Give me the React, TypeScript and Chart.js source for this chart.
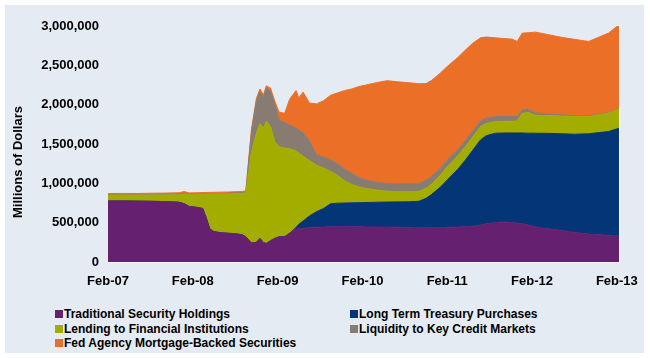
import React, { useEffect, useRef } from "react";
import { Chart, registerables } from "chart.js";

Chart.register(...registerables);

// months since Feb-2007
const months = [
  0, 2, 4, 6, 8, 10, 10.8, 11.5, 12.5, 13.4, 13.9, 14.4, 15, 16, 17, 18, 19, 19.5,
  20.3, 21, 21.5, 22, 22.4, 23, 23.6, 24.2, 25, 25.7, 26.2, 26.6, 27, 27.6, 28.5,
  29.5, 30.5, 31.5, 32.5, 33.5, 34.5, 35.5, 36.5, 38, 39.5, 41, 42.5, 44, 45, 45.8,
  47, 48, 49.5, 50.6, 51.6, 52.7, 53.5, 54.8, 56, 57.2, 57.9, 58.6, 59.5, 60.5, 62,
  64.3, 66, 68, 69.5, 70.8, 72.3,
];

const traditional = [
  775000, 776000, 774000, 772000, 768000, 760000, 740000, 705000, 695000, 680000, 560000, 420000,
  385000, 372000, 365000, 360000, 345000, 320000, 240000, 250000, 300000, 245000, 235000, 270000,
  300000, 320000, 322000, 365000, 400000, 415000, 425000, 430000, 440000, 442000, 445000, 448000,
  449000, 449000, 448000, 447000, 446000, 445000, 444000, 442000, 440000, 438000, 437000, 437000,
  438000, 440000, 445000, 449000, 455000, 470000, 485000, 500000, 510000, 500000, 495000, 485000,
  470000, 445000, 425000, 400000, 375000, 355000, 345000, 340000, 335000,
];

const longTerm = [
  0, 0, 0, 0, 0, 0, 0, 0, 0, 0, 0, 0,
  0, 0, 0, 0, 0, 0, 0, 0, 0, 0, 0, 0,
  0, 0, 0, 0, 5000, 25000, 55000, 90000, 145000, 198000, 235000, 292000,
  299000, 301000, 304000, 307000, 310000, 315000, 318000, 322000, 326000, 334000, 373000, 423000,
  512000, 603000, 735000, 851000, 965000, 1082000, 1120000, 1137000, 1130000, 1140000, 1145000, 1155000,
  1168000, 1192000, 1211000, 1230000, 1249000, 1275000, 1300000, 1318000, 1366000,
];

const lending = [
  75000, 75000, 76000, 80000, 85000, 95000, 120000, 153000, 165000, 182000, 303000, 444000,
  480000, 494000, 503000, 510000, 527000, 560000, 1160000, 1390000, 1460000, 1455000, 1555000, 1450000,
  1230000, 1145000, 1128000, 1075000, 1020000, 970000, 905000, 825000, 705000, 590000, 515000, 410000,
  352000, 280000, 233000, 201000, 179000, 155000, 138000, 130000, 128000, 126000, 127000, 130000,
  150000, 169000, 170000, 170000, 170000, 169000, 155000, 148000, 148000, 150000, 152000, 252000,
  262000, 228000, 226000, 225000, 225000, 220000, 227000, 234000, 246000,
];

const liquidity = [
  2000, 2000, 2000, 2000, 2000, 2000, 2000, 2000, 2000, 2000, 2000, 2000,
  2000, 3000, 4000, 8000, 10000, 8000, 250000, 410000, 410000, 390000, 420000, 450000,
  480000, 335000, 325000, 300000, 295000, 290000, 295000, 295000, 250000, 135000, 140000, 148000,
  150000, 150000, 140000, 120000, 106000, 100000, 98000, 98000, 98000, 98000, 100000, 100000,
  90000, 86000, 80000, 78000, 75000, 70000, 68000, 65000, 62000, 60000, 58000, 42000,
  40000, 30000, 22000, 15000, 10000, 8000, 7000, 6000, 5000,
];

const mbs = [
  18000, 19000, 19000, 20000, 21000, 23000, 33000, 18000, 18000, 18000, 19000, 19000,
  19000, 19000, 18000, 16000, 15000, 17000, 40000, 30000, 30000, 35000, 30000, 40000,
  35000, 105000, 115000, 330000, 410000, 480000, 405000, 520000, 480000, 645000, 715000, 822000,
  900000, 1000000, 1075000, 1155000, 1209000, 1265000, 1307000, 1298000, 1288000, 1269000, 1231000, 1220000,
  1210000, 1187000, 1170000, 1149000, 1115000, 1059000, 1032000, 1000000, 990000, 983000, 953000, 975000,
  975000, 1027000, 1011000, 984000, 971000, 945000, 981000, 1011000, 1063000,
];

const xTickMonths = [0, 12, 24, 36, 48, 60, 72];
const xTickLabels = ["Feb-07", "Feb-08", "Feb-09", "Feb-10", "Feb-11", "Feb-12", "Feb-13"];
const yTicks = [0, 500000, 1000000, 1500000, 2000000, 2500000, 3000000];

const seriesNames = [
  "Traditional Security Holdings",
  "Long Term Treasury Purchases",
  "Lending to Financial Institutions",
  "Liquidity to Key Credit Markets",
  "Fed Agency Mortgage-Backed Securities",
];
const seriesColors = ["#65206f", "#033577", "#a3ad00", "#877b72", "#eb6f26"];
const seriesData = [traditional, longTerm, lending, liquidity, mbs];

const FONT = "'Liberation Sans', Arial, sans-serif";

export default function App() {
  const ref = useRef<HTMLCanvasElement | null>(null);

  useEffect(() => {
    if (!ref.current) return;
    const edgePlugin = {
      id: "edges",
      afterDatasetsDraw(chart: any) {
        const { ctx, chartArea } = chart;
        ctx.save();
        ctx.strokeStyle = "#ffffff";
        ctx.lineWidth = 1;
        ctx.beginPath();
        ctx.moveTo(Math.round(chartArea.right) + 0.5, chart.scales.y.getPixelForValue(3015000));
        ctx.lineTo(Math.round(chartArea.right) + 0.5, chartArea.bottom + 1);
        ctx.moveTo(chartArea.left, Math.round(chartArea.bottom) + 0.5);
        ctx.lineTo(chartArea.right + 1, Math.round(chartArea.bottom) + 0.5);
        ctx.stroke();
        ctx.restore();
      },
    };
    const chart = new Chart(ref.current, {
      type: "line",
      data: {
        datasets: seriesData.map((arr, i) => ({
          label: seriesNames[i],
          data: arr.map((v, j) => ({ x: months[j], y: v })),
          backgroundColor: seriesColors[i],
          borderColor: seriesColors[i],
          borderWidth: 1,
          pointRadius: 0,
          tension: 0,
          fill: i === 0 ? "origin" : "-1",
        })),
      },
      options: {
        animation: false,
        responsive: false,
        devicePixelRatio: 1,
        layout: { padding: { left: 0, right: 31, top: 26, bottom: 0 } },
        plugins: { legend: { display: false }, tooltip: { enabled: false } },
        scales: {
          x: {
            type: "linear",
            min: 0,
            max: 72.3,
            grid: { display: false, drawTicks: false },
            border: { display: false },
            afterBuildTicks: (scale: any) => {
              scale.ticks = xTickMonths.map((v) => ({ value: v }));
            },
            afterFit: (scale: any) => {
              scale.height = 38;
            },
            ticks: {
              autoSkip: false,
              maxRotation: 0,
              padding: 12,
              color: "#000",
              font: { family: FONT, size: 13, weight: "bold" },
              callback: (v: any) => {
                const k = xTickMonths.indexOf(Number(v));
                return k >= 0 ? xTickLabels[k] : "";
              },
            },
          },
          y: {
            stacked: true,
            min: 0,
            max: 3000000,
            grid: { display: false, drawTicks: false },
            border: { display: false },
            afterBuildTicks: (scale: any) => {
              scale.ticks = yTicks.map((v) => ({ value: v }));
            },
            afterFit: (scale: any) => {
              scale.width = 108;
            },
            ticks: {
              padding: 9,
              color: "#000",
              font: { family: FONT, size: 13, weight: "bold" },
              callback: (v: any) => Number(v).toLocaleString("en-US"),
            },
          },
        },
      },
      plugins: [edgePlugin],
    });
    return () => chart.destroy();
  }, []);

  const legendRows = [
    { i: 0, x: 55, y: 310 },
    { i: 1, x: 350, y: 310 },
    { i: 2, x: 55, y: 324.5 },
    { i: 3, x: 350, y: 324.5 },
    { i: 4, x: 55, y: 339 },
  ];

  return (
    <div style={{ position: "absolute", left: 0, top: 0, width: 650, height: 358, background: "#ffffff", overflow: "hidden" }}>
      <div style={{ position: "absolute", left: 5, top: 5, width: 639, height: 348, background: "#e4ebf2" }} />
      <canvas ref={ref} width={650} height={300} style={{ position: "absolute", left: 0, top: 0, width: 650, height: 300 }} />
      <div
        style={{
          position: "absolute",
          left: 17,
          top: 162,
          transform: "translate(-50%, -50%) rotate(-90deg)",
          whiteSpace: "nowrap",
          font: `bold 13px ${FONT}`,
          color: "#000",
        }}
      >
        Millions of Dollars
      </div>
      {legendRows.map((r) => (
        <div key={r.i}>
          <div style={{ position: "absolute", left: r.x, top: r.y, width: 8, height: 8, background: seriesColors[r.i] }} />
          <div
            style={{
              position: "absolute",
              left: r.x + 9,
              top: r.y + 4,
              transform: "translateY(-50%)",
              whiteSpace: "nowrap",
              font: `bold 12px ${FONT}`,
              lineHeight: "14px",
              color: "#000",
            }}
          >
            {seriesNames[r.i]}
          </div>
        </div>
      ))}
    </div>
  );
}
